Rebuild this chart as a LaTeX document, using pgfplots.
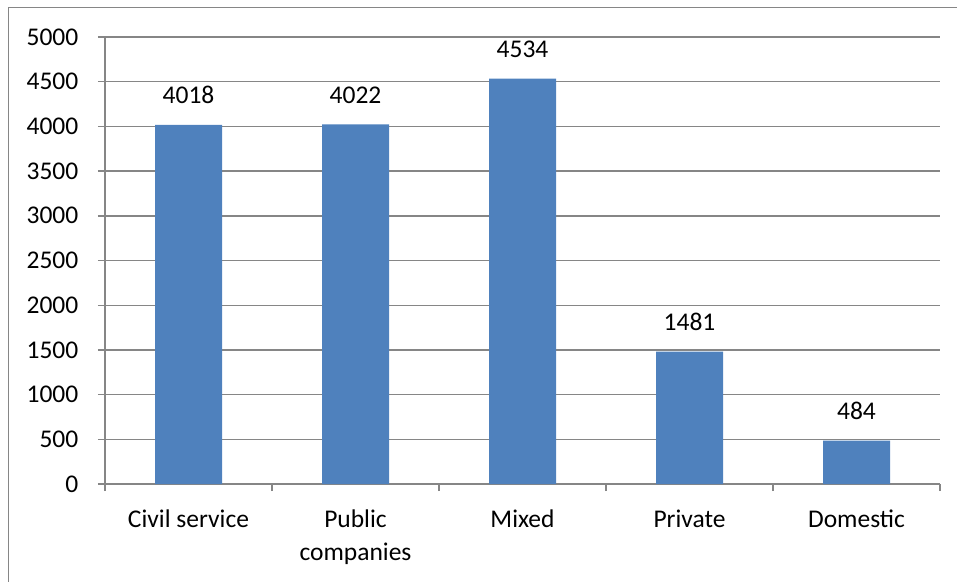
\documentclass[border=0pt]{standalone}
\usepackage{pgfplots}
\pgfplotsset{compat=1.18}
\usepackage{fontspec}
\setmainfont{Carlito}
\definecolor{barblue}{HTML}{4F81BD}
\definecolor{axgray}{HTML}{868686}
\begin{document}
\fontsize{25.5}{33}\selectfont
\begin{tikzpicture}[x=1pt,y=1pt]
\useasboundingbox (-105,-97) rectangle (852,484);
\draw[axgray,line width=1.5pt] (-96.5,-120) -- (-96.5,476.5) -- (880,476.5);
\begin{axis}[
  at={(0,0)}, anchor=south west,
  scale only axis, width=835pt, height=447pt,
  xmin=-0.5, xmax=4.5, ymin=0, ymax=5000,
  axis x line*=bottom, axis y line*=left,
  axis line style={axgray, line width=1.4pt},
  xtick={-0.5,0.5,...,4.5},
  x tick label as interval,
  xticklabels={Civil service, Public\\companies, Mixed, Private, Domestic},
  xticklabel style={align=center, yshift=-10pt},
  ytick={0,500,...,5000},
  yticklabel style={xshift=-11pt},
  tick align=outside, major tick length=7pt,
  tick style={axgray, line width=1.4pt},
  ymajorgrids, grid style={axgray, line width=1.4pt},
  /pgf/number format/assume math mode=true,
  /pgf/number format/1000 sep={},
  ybar, bar width=67pt, bar shift=0pt,
  nodes near coords,
  nodes near coords style={yshift=12pt},
  clip=false,
]
\addplot[fill=barblue, draw=none] coordinates {(0,4018) (1,4022) (2,4534) (3,1481) (4,484)};
\end{axis}
\end{tikzpicture}
\end{document}
